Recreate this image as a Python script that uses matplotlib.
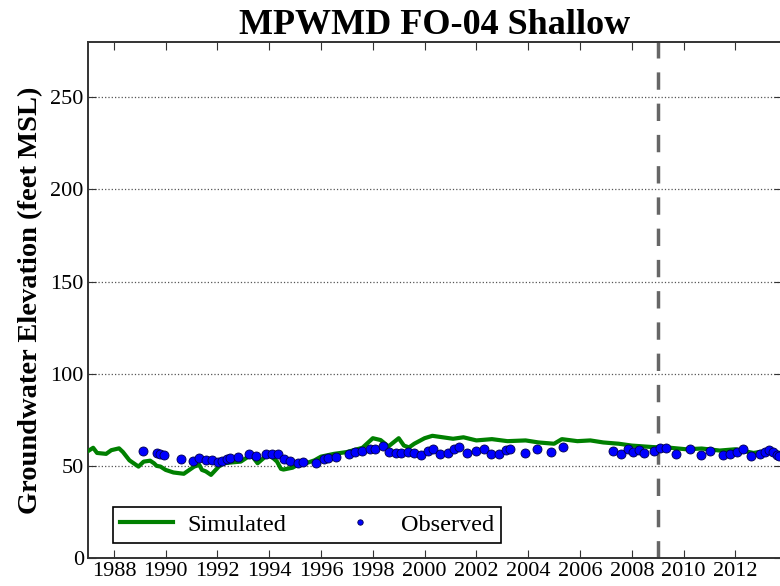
import numpy as np
import matplotlib; matplotlib.use("Agg")
import matplotlib.pyplot as plt
import matplotlib.ticker as ticker

# simulated groundwater elevation (decimal year, feet MSL)
sim_year = [1987.0, 1987.2, 1987.35, 1987.7, 1987.9, 1988.2, 1988.35, 1988.6,
            1988.95, 1989.15, 1989.4, 1989.55, 1989.65, 1989.8, 1990.0, 1990.3,
            1990.7, 1991.1, 1991.3, 1991.4, 1991.55, 1991.75, 1992.05, 1992.25,
            1992.5, 1992.9, 1993.3, 1993.55, 1993.85, 1994.05, 1994.3, 1994.45,
            1994.55, 1994.9, 1995.2, 1995.5, 1995.75, 1996.0, 1996.5, 1997.0,
            1997.6, 1998.0, 1998.3, 1998.5, 1998.6, 1999.0, 1999.2, 1999.4,
            1999.6, 2000.0, 2000.3, 2000.7, 2001.1, 2001.5, 2002.0, 2002.6,
            2003.2, 2003.9, 2004.4, 2005.0, 2005.3, 2005.9, 2006.4, 2006.9,
            2007.5, 2008.0, 2008.8, 2009.5, 2010.1, 2010.7, 2011.4, 2012.0,
            2012.7, 2013.3, 2013.7, 2014.2]
sim_val = [58.0, 59.8, 57.0, 56.5, 58.5, 59.5, 57.5, 53.0, 49.6, 52.3, 52.8,
           51.4, 50.0, 49.6, 47.8, 46.4, 45.7, 49.6, 50.5, 47.8, 47.0, 45.1,
           49.6, 51.4, 51.8, 52.3, 56.0, 51.4, 55.0, 55.5, 52.3, 48.4, 48.0,
           49.0, 51.4, 51.8, 53.0, 55.0, 56.5, 57.5, 59.8, 65.0, 64.0, 61.7,
           60.5, 65.0, 61.0, 60.0, 62.0, 65.0, 66.3, 65.5, 64.7, 65.5, 63.8,
           64.5, 63.4, 63.8, 62.7, 62.0, 64.5, 63.4, 63.8, 62.7, 62.0, 61.0,
           60.2, 59.8, 59.0, 59.4, 58.3, 59.0, 57.0, 58.3, 57.0, 57.5]

# observed groundwater elevation
obs_year = [1989.13, 1989.65, 1989.8, 1989.95, 1990.6, 1991.04, 1991.3, 1991.55,
            1991.78, 1992.03, 1992.16, 1992.35, 1992.5, 1992.78, 1993.23, 1993.5,
            1993.86, 1994.12, 1994.35, 1994.57, 1994.8, 1995.1, 1995.3, 1995.8,
            1996.12, 1996.28, 1996.56, 1997.09, 1997.31, 1997.6, 1997.89, 1998.08,
            1998.38, 1998.63, 1998.89, 1999.08, 1999.37, 1999.6, 1999.85, 2000.14,
            2000.33, 2000.59, 2000.9, 2001.14, 2001.34, 2001.62, 2001.97, 2002.3,
            2002.56, 2002.88, 2003.14, 2003.3, 2003.88, 2004.35, 2004.89, 2005.35,
            2007.28, 2007.58, 2007.84, 2008.05, 2008.27, 2008.48, 2008.86, 2009.08,
            2009.34, 2009.7, 2010.24, 2010.66, 2011.04, 2011.53, 2011.79, 2012.05,
            2012.28, 2012.6, 2012.95, 2013.14, 2013.3, 2013.46, 2013.6, 2013.7]
obs_val = [58.2, 56.9, 56.3, 55.8, 53.6, 52.9, 54.5, 53.3, 53.3, 52.2, 52.9,
           53.6, 54.2, 54.7, 56.2, 55.4, 56.2, 56.2, 56.5, 53.8, 52.7, 51.8,
           52.2, 51.8, 53.6, 54.0, 54.9, 56.3, 57.4, 58.2, 59.1, 59.4, 60.9,
           57.4, 56.9, 56.9, 57.6, 57.2, 55.8, 58.3, 59.1, 56.7, 56.9, 58.9,
           60.0, 56.9, 58.3, 58.9, 56.3, 56.7, 58.5, 59.1, 56.9, 59.1, 57.6,
           60.0, 58.2, 56.7, 58.9, 57.6, 58.5, 57.1, 58.2, 59.6, 59.8, 56.7,
           59.1, 56.0, 58.0, 56.0, 56.2, 57.6, 59.1, 55.6, 56.7, 57.6, 58.7,
           57.6, 56.0, 55.4]

calib_end = 2009.0
x_ticks = list(range(1988, 2014, 2))
y_ticks = [0, 50, 100, 150, 200, 250]

plt.rcParams["font.family"] = ["Liberation Serif", "DejaVu Serif"]

fig = plt.figure(figsize=(7.8, 5.86), dpi=100)
# right edge of the axes sits just past the image border, as in the reference
ax = fig.add_axes([0.1128, 0.0478, 0.8897, 0.8805])

ax.plot(sim_year, sim_val, color="#008000", lw=3, label="Simulated", zorder=3)
ax.plot(obs_year, obs_val, ls="none", marker="o", ms=6.5, mfc="#0000ff",
        mec="#00004d", mew=0.6, label="Observed", zorder=4)
ax.axvline(calib_end, color="#666666", lw=2.5, ls=(0, (5, 4)), zorder=2)

ax.set_xlim(1987, 2013.8)
ax.set_ylim(0, 280)
ax.set_xticks(x_ticks)
ax.set_yticks(y_ticks)
ax.xaxis.set_major_formatter(ticker.FormatStrFormatter("%d"))
ax.tick_params(which="both", direction="in", top=True, right=True,
               labelsize=16, length=6, color="#333333", pad=3)
ax.yaxis.grid(True, ls=":", color="#555555", lw=0.9)
for sp in ax.spines.values():
    sp.set_color("#333333")
    sp.set_linewidth(1.4)

ax.set_title("MPWMD FO-04 Shallow", fontsize=26, fontweight="bold", pad=5)
ax.set_ylabel("Groundwater Elevation (feet MSL)", fontsize=20.5,
              fontweight="bold", labelpad=5)

leg = ax.legend(loc="lower left", bbox_to_anchor=(0.036, 0.03), ncol=2,
                fontsize=17.5, frameon=True, fancybox=False, edgecolor="black",
                framealpha=1, handlelength=2.2, handletextpad=0.6,
                columnspacing=1.9, markerscale=0.6, borderpad=0.28,
                borderaxespad=0)
leg.get_frame().set_linewidth(1.2)

plt.savefig("out.png", dpi=100)
plt.close()
